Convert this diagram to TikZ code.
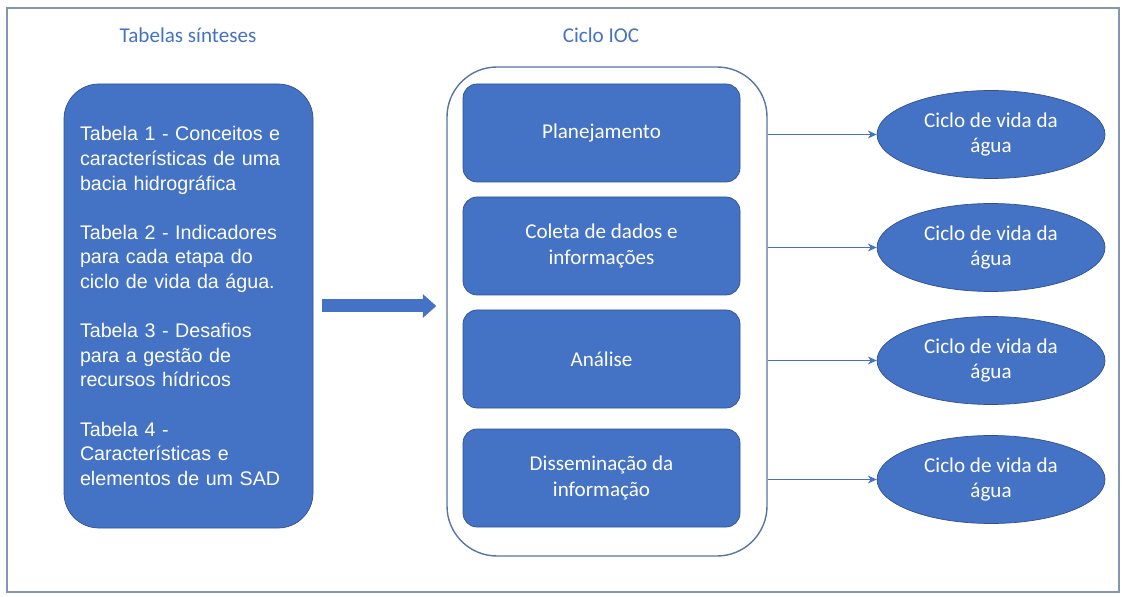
\documentclass[tikz,border=0pt]{standalone}
\usepackage{fontspec}
\setmainfont{Carlito}
\newfontfamily\arial{Liberation Sans}
\usepackage{tikz}
\usetikzlibrary{arrows.meta}
\usetikzlibrary{shapes.geometric}
\usetikzlibrary{positioning}
\definecolor{azul}{HTML}{4472C4}
\definecolor{borda}{HTML}{2F528F}
\definecolor{moldura}{HTML}{8497B0}
\tikzset{titulo/.style = {text=azul, font=\fontsize{12}{14.75}\selectfont},
         tabelas/.style = {draw=borda, fill=azul, rounded corners=0.7cm, text=white,
                           minimum width=4.98cm, minimum height=8.88cm, text width=4.34cm,
                           inner xsep=0.32cm, align=left,
                           font=\arial\fontsize{11.2}{14}\selectfont},
         fase/.style = {draw=borda, fill=azul, rounded corners=0.28cm, text=white,
                        minimum width=5.54cm, minimum height=1.96cm, align=center,
                        font=\fontsize{12}{14.75}\selectfont},
         ciclo/.style = {ellipse, draw=borda, fill=azul, text=white, inner sep=0pt,
                         minimum width=4.56cm, minimum height=1.76cm, align=center,
                         font=\fontsize{12}{14.75}\selectfont},
         seta/.style = {draw=azul, line width=0.26cm,
                        -{Triangle[length=0.27cm, width=0.46cm]}},
         liga/.style = {draw=azul, line width=0.6pt, -{Stealth[length=5pt, width=4.5pt]}}}

\begin{document}
\begin{tikzpicture}
      \useasboundingbox (0, 0) rectangle (22.5, 11.92);
      \draw [moldura, line width=0.8pt] (0.14, 0.08) rectangle (22.38, 11.76);
      % titulos
      \node [titulo] (t1) at (3.76, 11.22) {Tabelas sínteses};
      \node [titulo] (t2) at (12.02, 11.22) {Ciclo IOC};
      % tabelas sinteses
      \node [tabelas] (tab) at (3.77, 5.8) {Tabela 1 - Conceitos e\\características de uma\\bacia hidrográfica\\[\baselineskip]
        Tabela 2 - Indicadores\\para cada etapa do\\ciclo de vida da água.\\[\baselineskip]
        Tabela 3 - Desafios\\para a gestão de\\recursos hídricos\\[\baselineskip]
        Tabela 4 -\\Características e\\elementos de um SAD};
      % ciclo IOC
      \node [draw=borda!80, line width=0.8pt, rounded corners=1cm, minimum width=6.4cm,
             minimum height=9.78cm] (ioc) at (12.14, 5.69) {};
      \node [fase] (f1) at (12.03, 9.26) {Planejamento};
      \node [fase] (f2) at (12.03, 7.0) {Coleta de dados e\\informações};
      \node [fase] (f3) at (12.03, 4.74) {Análise};
      \node [fase] (f4) at (12.03, 2.36) {Disseminação da\\informação};
      \draw [seta] ([xshift=0.18cm]tab.east) -- ([xshift=-0.2cm]ioc.west |- tab.east);
      % ciclo de vida
      \coordinate (col) at (19.82, 0);
      \foreach \i in {1, 2, 3, 4} {
        \node [ciclo] (e\i) at ([yshift=-0.03cm]col |- f\i) {Ciclo de vida da\\água};
        \draw [liga] (ioc.east |- e\i) -- (e\i);
      }
\end{tikzpicture}
\end{document}
